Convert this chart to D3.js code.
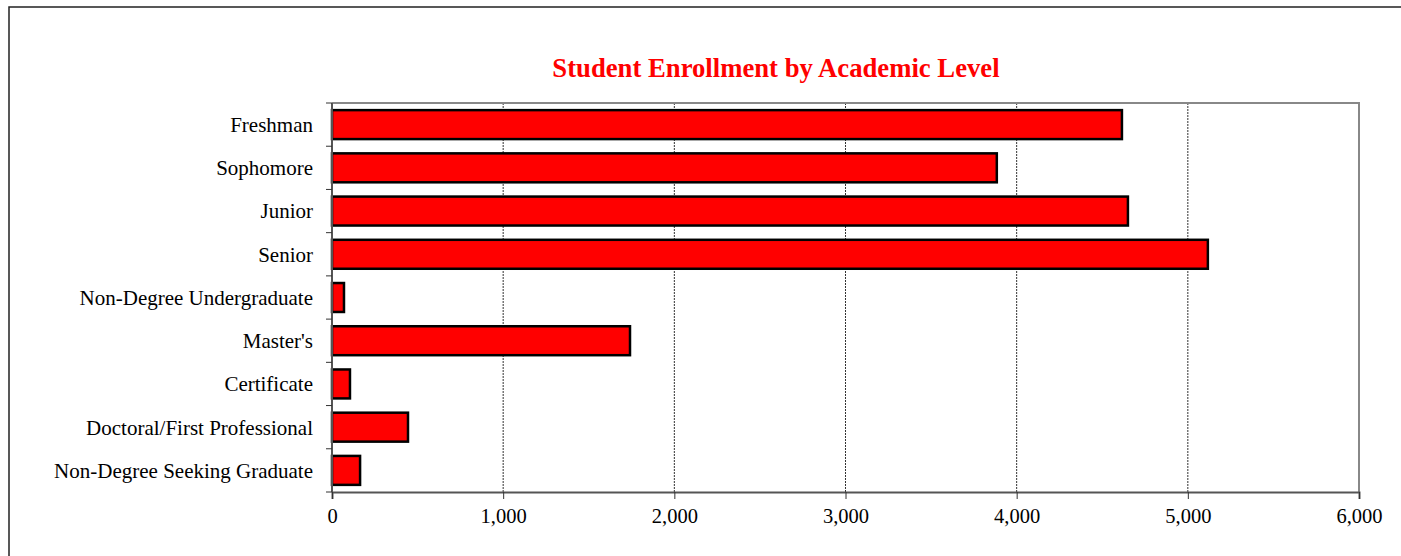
<!DOCTYPE html>
<html><head><meta charset="utf-8">
<script src="https://cdn.jsdelivr.net/npm/d3@7"></script>
<style>html,body{margin:0;background:#fff;overflow:hidden}svg{display:block}</style>
</head><body>
<svg id="c" width="1401" height="556"></svg>
<script>
const categories = ["Freshman","Sophomore","Junior","Senior","Non-Degree Undergraduate","Master's","Certificate","Doctoral/First Professional","Non-Degree Seeking Graduate"];
const enrollment = [4615,3884,4650,5117,70,1741,105,444,164];
const xTicks = [0,1000,2000,3000,4000,5000,6000];
const title = "Student Enrollment by Academic Level";

const svg = d3.select("#c");
const font = "'Liberation Serif','Times New Roman',serif";
// outer border (left and top only visible)
svg.append("path").attr("d","M9,560V7H1405").attr("fill","none").attr("stroke","#222").attr("stroke-width",1.5);

const L=332,R=1359,T=103,B=492;
const x = d3.scaleLinear().domain([0,6000]).range([L,R]);
const y = d3.scaleBand().domain(categories).range([T,B]).paddingInner(0.33).paddingOuter(0.165);

svg.append("text").attr("x",776).attr("y",77).attr("text-anchor","middle")
  .attr("font-family",font).attr("font-weight","bold").attr("font-size",26.7).attr("fill","#ff0000").text(title);

// gridlines
svg.append("g").selectAll("line").data(xTicks.filter(d=>d>0&&d<6000)).join("line")
  .attr("x1",d=>x(d)).attr("x2",d=>x(d)).attr("y1",T).attr("y2",B)
  .attr("stroke","#333").attr("stroke-width",1).attr("stroke-dasharray","2,1");

// plot border (top/right)
svg.append("path").attr("d",`M${L},${T}H${R}V${B}`).attr("fill","none").attr("stroke","#888").attr("stroke-width",2);

// bars
svg.append("g").selectAll("rect").data(categories).join("rect")
  .attr("x",x(0)).attr("y",d=>y(d)).attr("height",y.bandwidth())
  .attr("width",(d,i)=>x(enrollment[i])-x(0))
  .attr("fill","#ff0000").attr("stroke","#000").attr("stroke-width",2.5);

// x axis
const xa = svg.append("g").attr("transform",`translate(0,${B})`)
  .call(d3.axisBottom(x).tickValues(xTicks).tickFormat(d3.format(",")).tickSize(7).tickPadding(9));
xa.select(".domain").attr("stroke","#555").attr("stroke-width",2);
xa.selectAll(".tick line").attr("stroke","#333");
xa.selectAll("text").attr("font-family",font).attr("font-size",20.5).attr("fill","#000");

// y axis
const ya = svg.append("g").attr("transform",`translate(${L},0)`);
ya.append("line").attr("x1",0).attr("x2",0).attr("y1",T).attr("y2",B).attr("stroke","#555").attr("stroke-width",2);
const bounds = d3.range(categories.length+1).map(i=>T+i*(B-T)/categories.length);
ya.selectAll("line.t").data(bounds).join("line").attr("class","t")
  .attr("x1",-6).attr("x2",0).attr("y1",d=>d).attr("y2",d=>d).attr("stroke","#333");
ya.selectAll("text").data(categories).join("text")
  .attr("x",-19).attr("y",d=>y(d)+y.bandwidth()/2).attr("dy","0.35em").attr("text-anchor","end")
  .attr("font-family",font).attr("font-size",21).attr("fill","#000").text(d=>d);
</script>
</body></html>
